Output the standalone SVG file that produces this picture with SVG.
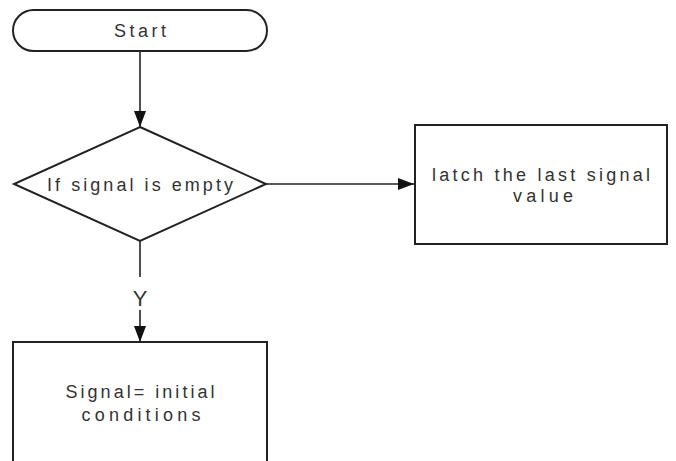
<svg xmlns="http://www.w3.org/2000/svg" width="676" height="461" viewBox="0 0 676 461">
<style>
.s{fill:#fff;stroke:#222;stroke-width:2}
.c{fill:none;stroke:#222;stroke-width:1.6}
.t{font-family:"Liberation Sans",Arial,sans-serif;font-size:18px;fill:#333;text-anchor:middle}
</style>
<defs>
<marker id="b" viewBox="0 0 16 12" refX="16" refY="6" markerWidth="16" markerHeight="12" markerUnits="userSpaceOnUse" orient="auto">
<path d="M0,0 L16,6 L0,12 z" fill="#111"/>
</marker>
</defs>
<rect width="676" height="461" fill="#fff"/>
<g id="start">
<rect class="s" x="13" y="10" width="254" height="41" rx="20.5" ry="20.5"/>
<text class="t" x="140" y="37" textLength="52" lengthAdjust="spacing">Start</text>
</g>
<g id="decision">
<polygon class="s" points="140,127 266,184 140,241 14,184"/>
<text class="t" x="140" y="191" textLength="186" lengthAdjust="spacing">If signal is empty</text>
</g>
<g id="latch">
<rect class="s" x="415" y="125" width="252" height="119"/>
<text class="t" x="541" y="181" textLength="218" lengthAdjust="spacing">latch the last signal</text>
<text class="t" x="543" y="202" textLength="60" lengthAdjust="spacing">value</text>
</g>
<g id="init">
<rect class="s" x="13" y="342" width="254" height="130"/>
<text class="t" x="140" y="398" textLength="149" lengthAdjust="spacing">Signal= initial</text>
<text class="t" x="141" y="421" textLength="119" lengthAdjust="spacing">conditions</text>
</g>
<g id="connectors">
<line class="c" x1="140" y1="51" x2="140" y2="127" marker-end="url(#b)"/>
<line class="c" x1="266" y1="184" x2="414" y2="184" marker-end="url(#b)"/>
<line class="c" x1="140" y1="241" x2="140" y2="277"/>
<line class="c" x1="140" y1="310" x2="140" y2="342" marker-end="url(#b)"/>
<text class="t" x="140" y="306" style="font-size:22px">Y</text>
</g>
</svg>
